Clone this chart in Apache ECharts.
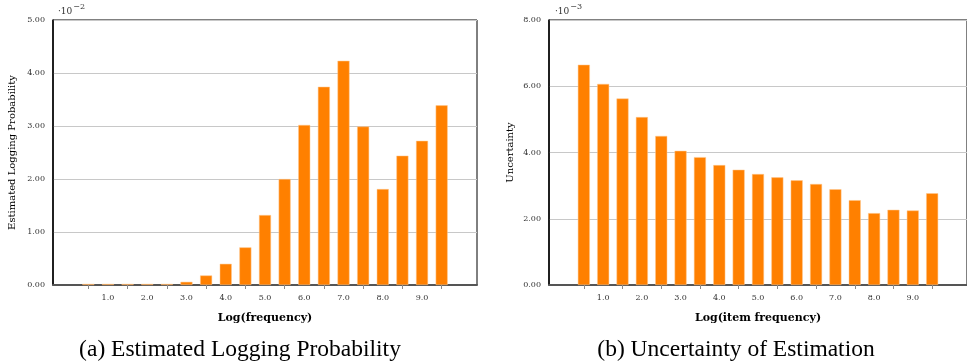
<!DOCTYPE html>
<html>
<head>
<meta charset="utf-8">
<script src="https://cdn.jsdelivr.net/npm/echarts@6/dist/echarts.min.js"></script>
<style>
  html, body { margin: 0; padding: 0; background: #fff; }
  #chart { width: 967px; height: 364px; }
</style>
</head>
<body>
<div id="chart"></div>
<script>
// bar positions on Log(frequency) axis
const xPositions = [0.5, 1.0, 1.5, 2.0, 2.5, 3.0, 3.5, 4.0, 4.5, 5.0, 5.5, 6.0, 6.5, 7.0, 7.5, 8.0, 8.5, 9.0, 9.5];
const xLabelValues = [1, 2, 3, 4, 5, 6, 7, 8, 9];
const xTickValues = [0.5, 1.5, 2.5, 3.5, 4.5, 5.5, 6.5, 7.5, 8.5, 9.5];

// (a) estimated logging probability, x 10^-2
const loggingProb = [0.02, 0.02, 0.02, 0.02, 0.02, 0.06, 0.18, 0.40, 0.71, 1.32, 2.00, 3.02, 3.74, 4.23, 2.99, 1.81, 2.44, 2.72, 3.39];
// (b) uncertainty, x 10^-3
const uncertainty = [6.65, 6.07, 5.63, 5.07, 4.50, 4.05, 3.86, 3.62, 3.48, 3.35, 3.25, 3.16, 3.05, 2.89, 2.56, 2.17, 2.27, 2.25, 2.77];

const serif = "'DejaVu Serif', serif";
const barColor = '#ff8000';

const chart = echarts.init(document.getElementById('chart'));

const makeX = (gridIndex, name) => ({
  type: 'value',
  gridIndex: gridIndex,
  min: -0.4,
  max: 10.4,
  name: name,
  nameLocation: 'middle',
  nameGap: 28,
  nameTextStyle: { fontFamily: serif, fontWeight: 'bold', fontSize: 11, color: '#000' },
  axisLine: { show: true, onZero: false, lineStyle: { color: '#555', width: 2 } },
  axisTick: { show: true, length: 4, customValues: xTickValues, lineStyle: { color: '#888' } },
  axisLabel: {
    customValues: xLabelValues,
    margin: 9,
    fontFamily: serif,
    fontSize: 8,
    color: '#333',
    formatter: (v) => v.toFixed(1),
  },
  splitLine: { show: false },
});

const makeY = (gridIndex, name, max, interval, gap) => ({
  type: 'value',
  gridIndex: gridIndex,
  min: 0,
  max: max,
  interval: interval,
  name: name,
  nameLocation: 'middle',
  nameGap: gap,
  nameTextStyle: { fontFamily: serif, fontSize: 10, color: '#000' },
  axisLine: { show: true, onZero: false, lineStyle: { color: '#000', width: 1.5 } },
  axisTick: { show: false },
  axisLabel: {
    margin: 8,
    fontFamily: serif,
    fontSize: 8,
    color: '#333',
    formatter: (v) => v.toFixed(2),
  },
  splitLine: { show: true, lineStyle: { color: '#c8c8c8', width: 1 } },
});

// "·10^-n" multiplier above each y axis
const multiplier = (left, exp) => ({
  type: 'text',
  left: left,
  top: 3,
  style: {
    text: '{a|·10}{b|−' + exp + '}',
    rich: {
      a: { fontFamily: serif, fontSize: 9, fill: '#333', padding: [5, 0, 0, 0] },
      b: { fontFamily: serif, fontSize: 8, fill: '#333', padding: [0, 0, 4, 1] },
    },
  },
});

const caption = (x, text) => ({
  type: 'text',
  x: x,
  y: 350,
  style: {
    text: text,
    fontFamily: "'Liberation Serif', serif",
    fontSize: 23.5,
    fill: '#000',
    align: 'center',
    verticalAlign: 'middle',
  },
});

const option = {
  animation: false,
  backgroundColor: '#fff',
  grid: [
    { left: 53, right: 490, top: 20, bottom: 79, show: true, borderColor: '#000', borderWidth: 1 },
    { left: 549, right: -9, top: 20, bottom: 79, show: true, borderColor: '#000', borderWidth: 1 },
  ],
  xAxis: [makeX(0, 'Log(frequency)'), makeX(1, 'Log(item frequency)')],
  yAxis: [
    makeY(0, 'Estimated Logging Probability', 5, 1, 36),
    makeY(1, 'Uncertainty', 8, 2, 34),
  ],
  series: [
    {
      type: 'bar',
      xAxisIndex: 0,
      yAxisIndex: 0,
      barWidth: 12,
      itemStyle: { color: barColor, borderColor: '#ffc890', borderWidth: 0.5 },
      data: xPositions.map((x, i) => [x, loggingProb[i]]),
    },
    {
      type: 'bar',
      xAxisIndex: 1,
      yAxisIndex: 1,
      barWidth: 12,
      itemStyle: { color: barColor, borderColor: '#ffc890', borderWidth: 0.5 },
      data: xPositions.map((x, i) => [x, uncertainty[i]]),
    },
  ],
  graphic: [
    multiplier(58, 2),
    multiplier(555, 3),
    caption(240, '(a) Estimated Logging Probability'),
    caption(736, '(b) Uncertainty of Estimation'),
  ],
};

chart.setOption(option);
</script>
</body>
</html>
